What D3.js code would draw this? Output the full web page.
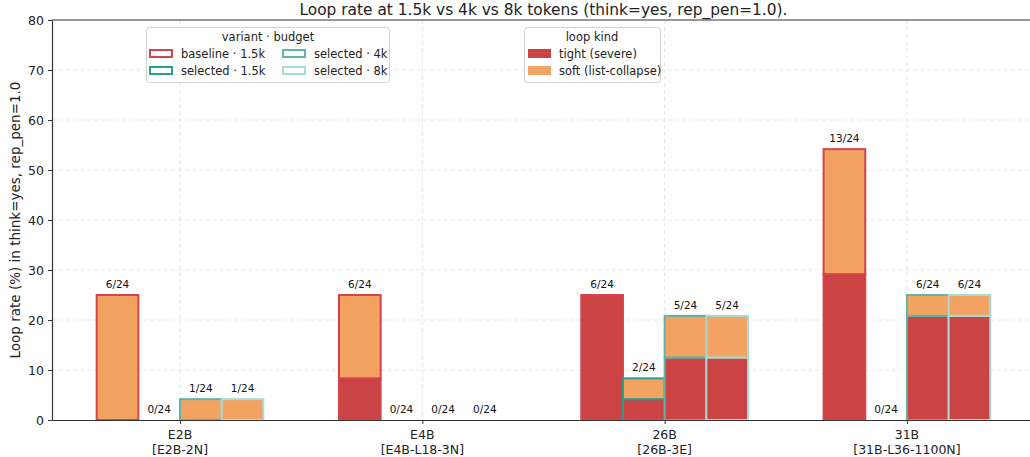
<!DOCTYPE html>
<html><head><meta charset="utf-8">
<script src="https://cdn.jsdelivr.net/npm/d3@7"></script>
<style>body{margin:0;background:#fff}svg{font-family:"DejaVu Sans",sans-serif;display:block}</style>
</head><body><svg id="c" width="1030" height="457"></svg>
<script>
const groups = ["E2B","E4B","26B","31B"];
const groupSub = ["[E2B-2N]","[E4B-L18-3N]","[26B-3E]","[31B-L36-1100N]"];
const variants = ["baseline · 1.5k","selected · 1.5k","selected · 4k","selected · 8k"];
const variantEdge = ["#d6434a","#2a9d8f","#5fb3a9","#a6dcd5"];
const kinds = ["tight (severe)","soft (list-collapse)"];
const kindFill = ["#cb4343","#f2a361"];
const nTotal = 24;
// loop counts per group (rows) x variant (cols)
const tightCounts = [[0,0,0,0],[2,0,0,0],[6,1,3,3],[7,0,5,5]];
const softCounts  = [[6,0,1,1],[4,0,0,0],[0,1,2,2],[6,0,1,1]];
const yTicks = [0,10,20,30,40,50,60,70,80];

const svg = d3.select("#c");
const bw = 0.172;
const xMin = -2*bw - 0.05*(3+4*bw), xMax = 3 + 2*bw + 0.05*(3+4*bw);
const L=52, unit=242.3, R = L + (xMax-xMin)*unit, T=20, B=420;
const x = d3.scaleLinear().domain([xMin, xMax]).range([L,R]);
const y = d3.scaleLinear().domain([0,80]).range([B,T]);

// grid
const g = svg.append("g");
g.selectAll("line.hy").data(yTicks.slice(1,-1)).join("line")
 .attr("x1",L).attr("x2",R).attr("y1",d=>y(d)).attr("y2",d=>y(d))
 .attr("stroke","#e3e3e3").attr("stroke-dasharray","4,3").attr("stroke-width",0.9);
g.selectAll("line.vx").data(groups).join("line")
 .attr("x1",(d,i)=>x(i)).attr("x2",(d,i)=>x(i)).attr("y1",T).attr("y2",B)
 .attr("stroke","#e3e3e3").attr("stroke-dasharray","4,3").attr("stroke-width",0.9);

// bars
const segs=[];
groups.forEach((gname,gi)=>{
  variants.forEach((v,vi)=>{
    const t=tightCounts[gi][vi]/nTotal*100, s=softCounts[gi][vi]/nTotal*100;
    const cx = gi + (vi-1.5)*bw;
    segs.push({cx,y0:0,y1:t,fill:kindFill[0],edge:variantEdge[vi]});
    segs.push({cx,y0:t,y1:t+s,fill:kindFill[1],edge:variantEdge[vi]});
  });
});
svg.append("g").selectAll("rect").data(segs).join("rect")
 .attr("x",d=>x(d.cx-bw/2)).attr("width",d=>x(d.cx+bw/2)-x(d.cx-bw/2))
 .attr("y",d=>y(d.y1)).attr("height",d=>y(d.y0)-y(d.y1))
 .attr("fill",d=>d.fill).attr("stroke",d=>d.edge).attr("stroke-width",2);

// labels
const labs=[];
groups.forEach((gname,gi)=>variants.forEach((v,vi)=>{
  const c=tightCounts[gi][vi]+softCounts[gi][vi];
  labs.push({cx:gi+(vi-1.5)*bw, v:c/nTotal*100, t:c+"/"+nTotal});
}));
svg.append("g").selectAll("text").data(labs).join("text")
 .attr("x",d=>x(d.cx)).attr("y",d=>y(d.v)-7).attr("text-anchor","middle")
 .attr("font-size",10.5).attr("fill","#111").text(d=>d.t);

// axes
const ax = svg.append("g").attr("transform",`translate(0,${B})`)
 .call(d3.axisBottom(x).tickValues([0,1,2,3]).tickFormat("").tickSize(4).tickSizeOuter(0));
ax.select(".domain").attr("stroke","#333").attr("stroke-width",1.2);
ax.selectAll(".tick line").attr("stroke","#333");
groups.forEach((gn,i)=>{
  svg.append("text").attr("x",x(i)).attr("y",439).attr("text-anchor","middle").attr("font-size",12.5).attr("fill","#222").text(gn);
  svg.append("text").attr("x",x(i)).attr("y",454).attr("text-anchor","middle").attr("font-size",12.5).attr("fill","#222").text(groupSub[i]);
});
const ay = svg.append("g").attr("transform",`translate(${L},0)`)
 .call(d3.axisLeft(y).tickValues(yTicks).tickSize(4).tickSizeOuter(0).tickPadding(4));
ay.select(".domain").attr("stroke","#333").attr("stroke-width",1.2);
ay.selectAll(".tick line").attr("stroke","#333");
ay.selectAll(".tick text").attr("font-size",12.5).attr("font-family","DejaVu Sans").attr("fill","#222");
svg.append("line").attr("x1",L).attr("x2",R).attr("y1",T).attr("y2",T).attr("stroke","#333").attr("stroke-width",1.2);

svg.append("text").attr("transform","translate(20,220) rotate(-90)").attr("text-anchor","middle")
 .attr("font-size",13.5).attr("fill","#222").text("Loop rate (%) in think=yes, rep_pen=1.0");
svg.append("text").attr("x",(L+R)/2).attr("y",15).attr("text-anchor","middle")
 .attr("font-size",15.4).attr("fill","#222").text("Loop rate at 1.5k vs 4k vs 8k tokens (think=yes, rep_pen=1.0).");

// legend 1
const l1 = svg.append("g");
l1.append("rect").attr("x",146.5).attr("y",27.5).attr("width",243).attr("height",55).attr("rx",3)
 .attr("fill","#fff").attr("fill-opacity",0.85).attr("stroke","#d0d0d0");
l1.append("text").attr("x",268).attr("y",41).attr("text-anchor","middle").attr("font-size",11.5).attr("fill","#222").text("variant · budget");
variants.forEach((v,i)=>{
  const col = i===0||i===1 ? 0 : 1;
  const row = i===0||i===2 ? 0 : 1;
  const hx = col===0?149:282, hy = row===0?49:66;
  l1.append("rect").attr("x",hx+1).attr("y",hy+1).attr("width",22).attr("height",7)
   .attr("fill","#fff").attr("stroke",variantEdge[i]).attr("stroke-width",2);
  l1.append("text").attr("x",hx+32).attr("y",hy+9).attr("font-size",11.5).attr("fill","#222").text(v);
});
// legend 2
const l2 = svg.append("g");
l2.append("rect").attr("x",524.5).attr("y",27.5).attr("width",136).attr("height",55).attr("rx",3)
 .attr("fill","#fff").attr("fill-opacity",0.85).attr("stroke","#d0d0d0");
l2.append("text").attr("x",592).attr("y",41).attr("text-anchor","middle").attr("font-size",11.5).attr("fill","#222").text("loop kind");
kinds.forEach((k,i)=>{
  const hy = i===0?49:66;
  l2.append("rect").attr("x",528).attr("y",hy).attr("width",23).attr("height",9).attr("fill",kindFill[i]);
  l2.append("text").attr("x",559).attr("y",hy+9).attr("font-size",11.5).attr("fill","#222").text(k);
});
</script></body></html>
